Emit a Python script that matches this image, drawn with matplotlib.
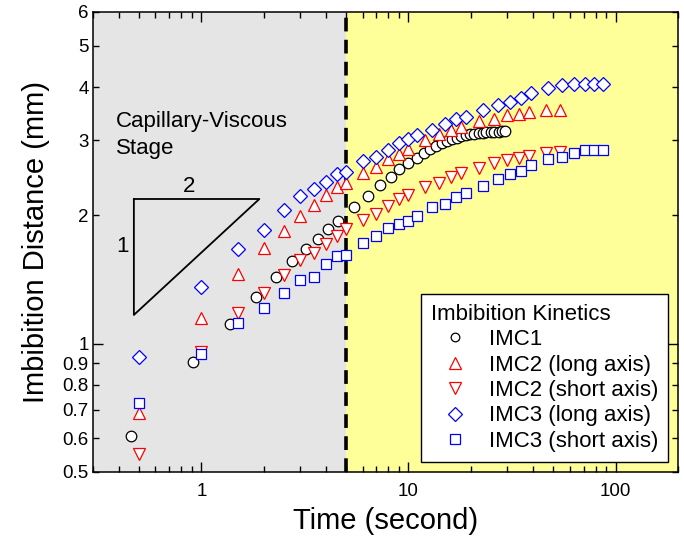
import matplotlib
matplotlib.use("Agg")
import matplotlib.pyplot as plt
from matplotlib.ticker import FixedLocator, FixedFormatter, NullFormatter, LogLocator

plt.rcParams['font.family'] = ['Liberation Sans', 'DejaVu Sans']

# ---- data ----
t1 = [0.457, 0.914, 1.37, 1.83, 2.29, 2.74, 3.2, 3.66, 4.11, 4.57, 5.46, 6.37, 7.26,
      8.19, 9.05, 10.0, 10.97, 11.9, 12.76, 13.6, 14.45, 15.3, 16.2, 17.07, 18.0, 18.9,
      19.9, 20.8, 21.8, 22.8, 23.8, 24.9, 26.0, 27.2, 28.2, 29.3]
d1 = [0.607, 0.907, 1.112, 1.285, 1.436, 1.563, 1.666, 1.758, 1.858, 1.944, 2.09, 2.224,
      2.357, 2.465, 2.566, 2.65, 2.722, 2.797, 2.859, 2.911, 2.953, 2.99, 3.022, 3.044,
      3.067, 3.083, 3.10, 3.11, 3.122, 3.127, 3.134, 3.139, 3.144, 3.146, 3.148, 3.151]

t2 = [0.5, 1, 1.5, 2, 2.5, 3, 3.5, 4, 4.5, 5, 6, 7, 8, 9, 10, 12, 14, 16, 18, 22, 26,
      30, 34, 38, 46, 54]
d2_long = [0.689, 1.151, 1.455, 1.675, 1.842, 1.994, 2.116, 2.233, 2.328, 2.387, 2.518,
           2.602, 2.708, 2.782, 2.859, 3.006, 3.105, 3.172, 3.23, 3.331, 3.361, 3.44,
           3.459, 3.497, 3.534, 3.534]
d2_short = [0.551, 0.958, 1.182, 1.317, 1.45, 1.572, 1.635, 1.714, 1.79, 1.858, 1.948,
            2.012, 2.105, 2.182, 2.233, 2.328, 2.387, 2.457, 2.518, 2.58, 2.65, 2.698,
            2.732, 2.761, 2.797, 2.813]

t3 = [0.5, 1, 1.5, 2, 2.5, 3, 3.5, 4, 4.5, 5, 6, 7, 8, 9, 10, 11, 13, 15, 17, 19, 23,
      27, 31, 35, 39, 47, 55, 63, 71, 79, 87]
d3_long = [0.932, 1.361, 1.666, 1.849, 2.06, 2.221, 2.303, 2.40, 2.497, 2.532, 2.688,
           2.738, 2.848, 2.953, 3.017, 3.088, 3.172, 3.277, 3.361, 3.409, 3.534, 3.631,
           3.696, 3.765, 3.868, 3.987, 4.045, 4.061, 4.061, 4.061, 4.061]
d3_short = [0.727, 0.944, 1.12, 1.211, 1.313, 1.41, 1.436, 1.536, 1.602, 1.615, 1.72,
            1.792, 1.866, 1.91, 1.944, 1.997, 2.09, 2.127, 2.213, 2.261, 2.348, 2.434,
            2.505, 2.542, 2.626, 2.708, 2.747, 2.797, 2.848, 2.848, 2.848]

labels = ["IMC1", "IMC2 (long axis)", "IMC2 (short axis)", "IMC3 (long axis)",
          "IMC3 (short axis)"]
y_tick_vals = [0.5, 0.6, 0.7, 0.8, 0.9, 2, 3, 4, 5, 6]
y_major = [1]
x_major = [1, 10, 100]
x_lim = (0.3, 200)
y_lim = (0.5, 6)
t_boundary = 5
tri_x = [0.4725, 1.906, 0.4725, 0.4725]
tri_y = [2.185, 2.185, 1.168, 2.185]

# ---- figure ----
fig = plt.figure(figsize=(6.84, 5.42), dpi=100)
ax = fig.add_axes([93/684, 1-472/542, 585/684, 460/542])
ax.set_xscale('log')
ax.set_yscale('log')
ax.set_xlim(*x_lim)
ax.set_ylim(*y_lim)

ax.axvspan(x_lim[0], t_boundary, color='#e5e5e5', zorder=0, lw=0)
ax.axvspan(t_boundary, x_lim[1], color='#ffff99', zorder=0, lw=0)
ax.axvline(t_boundary, color='black', lw=2.6, ls=(0, (3.8, 2.3)), zorder=1)

kw = dict(ls='none', mfc='white', mew=0.9, zorder=3)
ax.plot(t1, d1, marker='o', ms=7.6, mec='black', label=labels[0], **kw)
ax.plot(t2, d2_long, marker='^', ms=9, mec='#ff0000', label=labels[1], **kw)
ax.plot(t2, d2_short, marker='v', ms=9, mec='#ff0000', label=labels[2], **kw)
ax.plot(t3, d3_long, marker='D', ms=6.8, mec='#0000ff', label=labels[3], **kw)
ax.plot(t3, d3_short, marker='s', ms=7, mec='#0000ff', label=labels[4], **kw)

# slope triangle
ax.plot(tri_x, tri_y, color='black', lw=1.3, zorder=2)
ax.text(0.876, 2.332, "2", fontsize=16, ha='center', va='center')
ax.text(0.416, 1.689, "1", fontsize=16, ha='center', va='center')
ax.text(0.386, 3.23, "Capillary-Viscous", fontsize=16, ha='left', va='baseline')
ax.text(0.386, 2.787, "Stage", fontsize=16, ha='left', va='baseline')

# ticks
ax.xaxis.set_major_locator(FixedLocator(x_major))
ax.xaxis.set_major_formatter(FixedFormatter([str(v) for v in x_major]))
ax.xaxis.set_minor_locator(LogLocator(base=10, subs=[2, 3, 4, 5, 6, 7, 8, 9], numticks=20))
ax.xaxis.set_minor_formatter(NullFormatter())
ax.yaxis.set_major_locator(FixedLocator(y_major))
ax.yaxis.set_major_formatter(FixedFormatter(["1"]))
ax.yaxis.set_minor_locator(FixedLocator(y_tick_vals))
ax.yaxis.set_minor_formatter(FixedFormatter(["%g" % v for v in y_tick_vals]))

ax.tick_params(which='both', direction='in', top=True, right=True, width=1, labelsize=13.5)
ax.tick_params(which='major', length=7)
ax.tick_params(which='minor', length=4)
ax.tick_params(axis='x', which='both', pad=8)
ax.tick_params(axis='y', which='both', pad=3)

for s in ax.spines.values():
    s.set_linewidth(1.1)
    s.set_zorder(5)

ax.set_xlabel("Time (second)", fontsize=21, labelpad=5)
ax.set_ylabel("Imbibition Distance (mm)", fontsize=21, labelpad=9)

leg = ax.legend(title="Imbibition Kinetics", loc='lower right',
                bbox_to_anchor=(0.983, 0.022), borderaxespad=0, fontsize=16,
                title_fontsize=16, frameon=True, fancybox=False, edgecolor='black',
                facecolor='white', framealpha=1.0,
                handlelength=2.2, handletextpad=0.4, labelspacing=0.2, borderpad=0.45,
                alignment='left')
leg.get_frame().set_linewidth(1.0)
leg.legend_handles[0].set_markersize(6.2)
leg.set_zorder(10)

fig.savefig("out.png", dpi=100)
